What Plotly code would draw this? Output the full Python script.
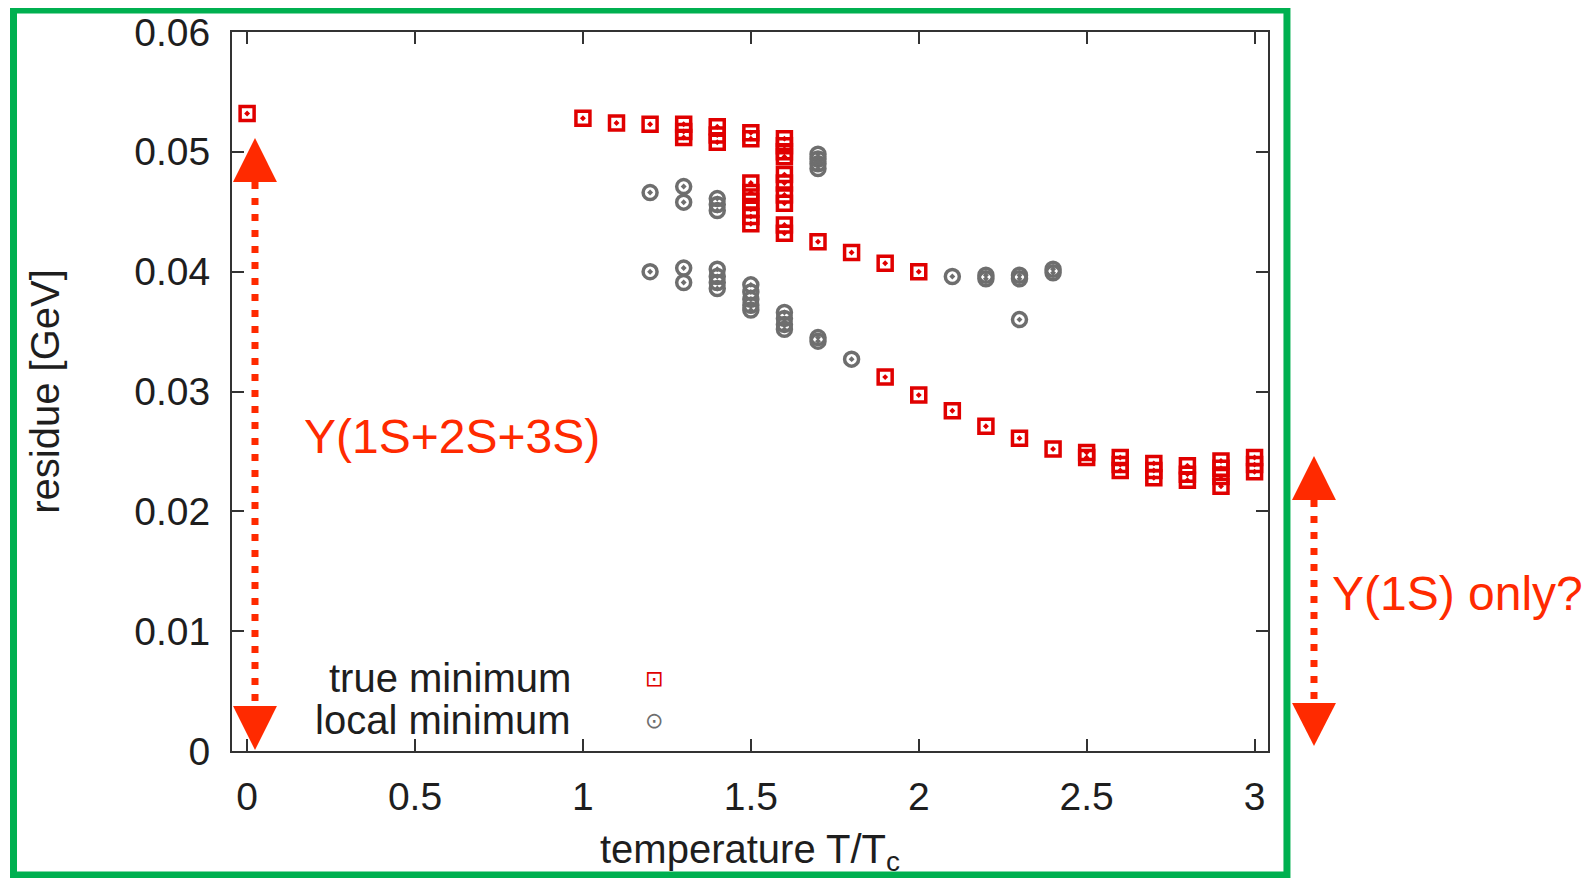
import plotly.graph_objects as go

# residue of the fit vs temperature
true_T = [0.0,
          1.0, 1.1, 1.2,
          1.3, 1.3, 1.3,
          1.4, 1.4, 1.4,
          1.5, 1.5,
          1.5, 1.5, 1.5, 1.5, 1.5, 1.5,
          1.6, 1.6, 1.6, 1.6,
          1.6, 1.6, 1.6, 1.6, 1.6, 1.6,
          1.7, 1.8, 1.9, 2.0,
          1.9, 2.0, 2.1, 2.2, 2.3, 2.4,
          2.5, 2.5,
          2.6, 2.6, 2.6,
          2.7, 2.7, 2.7,
          2.8, 2.8, 2.8,
          2.9, 2.9, 2.9, 2.9,
          3.0, 3.0, 3.0]
true_res = [0.0532,
            0.0528, 0.0524, 0.0523,
            0.0523, 0.0517, 0.0512,
            0.0521, 0.0514, 0.0508,
            0.0516, 0.0511,
            0.0474, 0.0466, 0.0459, 0.0452, 0.0446, 0.0440,
            0.0511, 0.0505, 0.0500, 0.0496,
            0.0481, 0.0474, 0.0464, 0.0457, 0.0439, 0.0432,
            0.0425, 0.0416, 0.0407, 0.0400,
            0.0312, 0.0297, 0.0284, 0.0271, 0.0261, 0.0252,
            0.0249, 0.0245,
            0.0245, 0.0239, 0.0234,
            0.0240, 0.0234, 0.0228,
            0.0238, 0.0231, 0.0226,
            0.0242, 0.0236, 0.0229, 0.0221,
            0.0245, 0.0239, 0.0233]

local_T = [1.2, 1.3, 1.3, 1.4, 1.4, 1.4,
           1.7, 1.7, 1.7, 1.7,
           1.2, 1.3, 1.3, 1.4, 1.4, 1.4, 1.4,
           1.5, 1.5, 1.5, 1.5, 1.5,
           1.6, 1.6, 1.6, 1.6,
           1.7, 1.7, 1.8,
           2.1, 2.2, 2.2, 2.3, 2.3, 2.4, 2.4,
           2.3]
local_res = [0.0466, 0.0471, 0.0458, 0.0461, 0.0456, 0.0451,
             0.0498, 0.0494, 0.0490, 0.0486,
             0.0400, 0.0403, 0.0391, 0.0402, 0.0396, 0.0391, 0.0386,
             0.0389, 0.0383, 0.0377, 0.0372, 0.0368,
             0.0366, 0.0361, 0.0356, 0.0352,
             0.0345, 0.0342, 0.0327,
             0.0396, 0.0397, 0.0394, 0.0397, 0.0394, 0.0402, 0.0399,
             0.0360]

legend_labels = ["true minimum", "local minimum"]

RED = "#e00000"
GREY = "#6e6e6e"
ARROW = "#ff2a00"
FONT = "Liberation Sans, Arial, sans-serif"
INK = "#1e1e1e"

fig = go.Figure()
fig.add_trace(go.Scatter(
    x=true_T, y=true_res, mode="markers", name=legend_labels[0],
    marker=dict(symbol="square-open-dot", size=14, color=RED, line=dict(width=3.5, color=RED)),
))
fig.add_trace(go.Scatter(
    x=local_T, y=local_res, mode="markers", name=legend_labels[1],
    marker=dict(symbol="circle-open-dot", size=14, color=GREY, line=dict(width=3.5, color=GREY)),
))

axis_common = dict(
    showline=True, linecolor="#333333", linewidth=2, mirror="ticks",
    ticks="inside", ticklen=12, tickwidth=2, tickcolor="#333333",
    showgrid=False, zeroline=False, automargin=False,
    tickfont=dict(family=FONT, size=39, color=INK),
)

fig.update_xaxes(range=[-0.045, 3.04], dtick=0.5, tick0=0,
                 ticklabelstandoff=10,
                 title=dict(text="temperature T/T<sub>c</sub>", standoff=18,
                            font=dict(family=FONT, size=40, color=INK)),
                 **axis_common)
fig.update_yaxes(range=[0, 0.06], dtick=0.01, tick0=0,
                 ticklabelstandoff=12,
                 title=dict(text="residue [GeV]", standoff=62,
                            font=dict(family=FONT, size=40, color=INK)),
                 **axis_common)

shapes = []


def dotted_arrow(x, y_top_tip, y_top_base, y_bot_base, y_bot_tip, half_w):
    shapes.append(dict(type="line", xref="paper", yref="paper",
                       x0=x, x1=x, y0=y_top_base, y1=y_bot_base,
                       line=dict(color=ARROW, width=7, dash="7px,9px")))
    shapes.append(dict(type="path", xref="paper", yref="paper",
                       path=f"M {x - half_w},{y_top_base} L {x + half_w},{y_top_base} L {x},{y_top_tip} Z",
                       fillcolor=ARROW, line=dict(width=0)))
    shapes.append(dict(type="path", xref="paper", yref="paper",
                       path=f"M {x - half_w},{y_bot_base} L {x + half_w},{y_bot_base} L {x},{y_bot_tip} Z",
                       fillcolor=ARROW, line=dict(width=0)))


dotted_arrow(0.0222, 0.8526, 0.7914, 0.0626, 0.0014, 0.0212)
dotted_arrow(1.0444, 0.4103, 0.3491, 0.0668, 0.0070, 0.0212)

# green frame around the whole picture
shapes.append(dict(type="rect", xref="paper", yref="paper",
                   x0=-0.2109, x1=1.0183, y0=-0.1725, y1=1.0306,
                   line=dict(color="#00b050", width=7)))

annotations = [
    dict(text="Y(1S+2S+3S)", xref="paper", yref="paper", x=0.0676, y=0.438,
         xanchor="left", yanchor="middle", showarrow=False,
         font=dict(family=FONT, size=48, color=ARROW)),
    dict(text="Y(1S) only?", xref="paper", yref="paper", x=1.0598, y=0.2197,
         xanchor="left", yanchor="middle", showarrow=False,
         font=dict(family=FONT, size=48, color=ARROW)),
]

# gnuplot-style key: text right-aligned, sample symbol to its right
key_rows = [(legend_labels[0], "⊡", RED, 0.1015),
            (legend_labels[1], "⊙", GREY, 0.0431)]
for label, glyph, colour, ky in key_rows:
    annotations.append(dict(text=label, xref="paper", yref="paper", x=0.329, y=ky,
                            xanchor="right", yanchor="middle", showarrow=False,
                            font=dict(family=FONT, size=40, color=INK)))
    annotations.append(dict(text=glyph, xref="paper", yref="paper", x=0.4073, y=ky,
                            xanchor="center", yanchor="middle", showarrow=False,
                            font=dict(family="DejaVu Sans", size=22, color=colour)))

# the page body adds 8px on top/left, so the margins are trimmed by that
fig.update_layout(
    width=1591, height=878,
    margin=dict(l=224, r=331, t=24, b=135),
    paper_bgcolor="white", plot_bgcolor="white",
    shapes=shapes, annotations=annotations,
    showlegend=False,
)

fig.write_html("out.html")
